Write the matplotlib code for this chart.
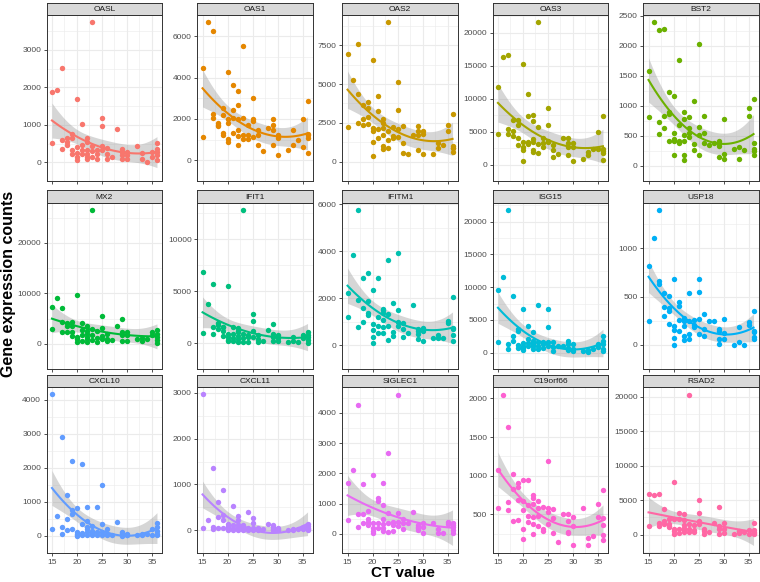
import numpy as np
import matplotlib.pyplot as plt

plt.rcParams['font.family'] = ['Liberation Sans', 'DejaVu Sans']

# CT value of each sample (shared by all genes)
ct = [15, 15, 16, 17, 17, 17, 18, 18, 18, 19, 19, 19, 19, 20, 20, 20, 20, 20,
      21, 21, 21, 21, 22, 22, 22, 22, 22, 22, 23, 23, 23, 23, 24, 24, 24,
      25, 25, 25, 25, 26, 26, 26, 27, 28, 29, 29, 29, 29, 30, 30, 30,
      32, 33, 33, 34, 35, 35, 36, 36, 36, 36, 36]

genes = ['OASL', 'OAS1', 'OAS2', 'OAS3', 'BST2',
         'MX2', 'IFIT1', 'IFITM1', 'ISG15', 'USP18',
         'CXCL10', 'CXCL11', 'SIGLEC1', 'C19orf66', 'RSAD2']

colors = ['#F8766D', '#E58700', '#C99800', '#A3A500', '#6BB100',
          '#00BA38', '#00BF7D', '#00C0AF', '#00BCD8', '#00B0F6',
          '#619CFF', '#B983FF', '#E76BF3', '#FD61D1', '#FF67A4']

oasl = [1870, 520, 1930, 2530, 360, 600, 650, 530, 450, 750, 660, 320, 230,
        1700, 400, 250, 150, 60, 1030, 450, 320, 230, 650, 540, 320, 230, 140, 90,
        3740, 440, 300, 150, 320, 230, 100, 1180, 980, 430, 320, 230, 80, 380,
        130, 880, 280, 100, 350, 200, 280, 100, 200, 430, 250, 100, 0, 280, 150,
        520, 280, 200, 60, 350]
oas1 = [4440, 1150, 6700, 6240, 2260, 2060, 1800, 1720, 1650, 2550, 2200, 1300, 1200,
        4270, 1990, 1800, 1020, 900, 3650, 2420, 2060, 1300, 3340, 2690, 2020, 1450, 1160, 730,
        5500, 2060, 1230, 1020, 1730, 1230, 1050, 2990, 1990, 1880, 1130, 1450, 760, 1200,
        430, 1560, 1980, 1450, 720, 1700, 270, 1070, 1200, 490, 1450, 760, 1000, 2020, 640,
        2880, 1270, 1090, 370, 1200]
oas2 = [6940, 2200, 5280, 7560, 4380, 2500, 3680, 2720, 2370, 3840, 3450, 2850, 2450,
        6570, 2140, 1990, 1250, 390, 4220, 3260, 2080, 1500, 2720, 2520, 2140, 1720, 1020, 790,
        9020, 1950, 1370, 890, 2240, 1660, 1500, 5110, 3350, 2080, 1560, 2290, 580, 1180,
        520, 1700, 2290, 2000, 1710, 730, 2000, 520, 1800, 460, 1180, 890, 1080, 2370, 1950,
        3050, 1020, 850, 640, 890]
oas3 = [11700, 4620, 16270, 16560, 5330, 4670, 6750, 5140, 4250, 6750, 6040, 4060, 3000,
        15190, 3440, 2640, 2170, 470, 10660, 7360, 3350, 3110, 7450, 6650, 3820, 3350, 2170, 1840,
        21600, 5660, 3110, 1790, 3960, 3300, 2640, 8540, 5940, 3580, 3350, 2260, 1080, 3000,
        1600, 3960, 3960, 3250, 2640, 1370, 3250, 470, 2600, 850, 1930, 1370, 2310, 4900, 2310,
        7400, 2400, 1790, 700, 2100]
bst2 = [1580, 815, 2400, 2260, 730, 530, 2280, 830, 625, 1240, 900, 860, 420,
        1160, 550, 450, 410, 180, 1760, 680, 420, 390, 900, 780, 510, 410, 180, 100,
        815, 640, 550, 480, 1090, 360, 270, 2030, 650, 520, 190, 840, 550, 390,
        350, 380, 420, 340, 150, 380, 790, 200, 110, 280, 320, 110, 270, 970, 840,
        1110, 390, 280, 250, 180]
mx2 = [7260, 2870, 9020, 7130, 4390, 2380, 4090, 3480, 2380, 4270, 3480, 2260, 1500,
       9570, 1340, 1200, 920, 430, 4200, 2740, 1650, 600, 3480, 2560, 1950, 1340, 920, 300,
       26500, 2870, 1650, 730, 2560, 1160, 430, 5490, 3170, 1520, 850, 1950, 550, 1000,
       790, 3480, 4820, 2260, 1770, 550, 2380, 1650, 550, 1040, 1160, 550, 1040, 2380, 1650,
       2740, 1950, 1340, 730, 240]
ifit1 = [6830, 960, 3740, 5690, 1560, 900, 1950, 1740, 1350, 1590, 1500, 1140, 700,
         5510, 900, 600, 300, 150, 1500, 900, 450, 150, 1410, 1200, 1050, 660, 360, 120,
         12800, 900, 450, 120, 750, 600, 120, 2840, 2100, 1200, 600, 750, 60, 400,
         150, 1260, 1800, 900, 600, 210, 750, 450, 150, 60, 600, 150, 60, 750, 450,
         1050, 750, 600, 300, 0]
ifitm1 = [2240, 1200, 3860, 5770, 1920, 790, 2850, 1580, 980, 3090, 1870, 1390, 1310,
          2340, 930, 660, 380, 100, 2870, 1200, 820, 530, 1540, 1490, 1360, 1070, 780, 530,
          3620, 1320, 820, 230, 1800, 570, 420, 3920, 1510, 1010, 820, 950, 370, 700,
          530, 1700, 690, 630, 500, 290, 730, 180, 600, 320, 440, 300, 320, 1050, 950,
          2050, 730, 690, 440, 210]
isg15 = [9600, 1700, 11500, 21750, 1350, 600, 8600, 2600, 1850, 3600, 3250, 700, 1200,
         6600, 1450, 950, 700, 350, 4000, 2100, 1450, 950, 3200, 1850, 1500, 1350, 950, 500,
         7250, 1600, 950, 500, 1600, 1350, 750, 6600, 3850, 1600, 950, 1600, 200, 900,
         950, 950, 1850, 1250, 700, 450, 1350, 600, 200, 200, 450, 100, 600, 1350, 850,
         2600, 1750, 1250, 600, 200]
usp18 = [813, 246, 1103, 1399, 657, 626, 539, 393, 299, 508, 377, 352, 212,
         679, 196, 153, 75, 3, 445, 399, 259, 143, 283, 259, 243, 196, 90, 50,
         533, 252, 112, 65, 259, 206, 181, 679, 548, 268, 115, 315, 159, 90,
         243, 243, 165, 143, 59, 9, 268, 122, 65, 3, 190, 25, 3, 237, 206,
         352, 143, 128, 81, 65]
cxcl10 = [4150, 190, 580, 2910, 265, 70, 1200, 490, 180, 2200, 750, 630, 190,
          830, 120, 70, 40, 0, 2120, 350, 90, 20, 860, 430, 260, 190, 120, 20,
          285, 150, 80, 30, 860, 120, 40, 1490, 350, 120, 40, 190, 70, 30,
          40, 400, 120, 40, 80, 10, 70, 20, 40, 40, 70, 20, 70, 190, 40,
          380, 265, 140, 20, 60]
cxcl11 = [2970, 57, 213, 1365, 71, 14, 625, 284, 57, 867, 320, 213, 57,
          142, 85, 57, 28, 0, 526, 107, 36, 0, 299, 213, 107, 57, 28, 0,
          71, 28, 120, 10, 391, 57, 0, 270, 156, 57, 0, 57, 0, 20,
          28, 142, 107, 0, 60, 20, 14, 0, 40, 0, 14, 0, 14, 71, 20,
          128, 57, 30, 0, 90]
siglec1 = [1690, 440, 2100, 4260, 230, 650, 1660, 660, 340, 750, 480, 390, 300,
           1940, 340, 200, 30, 100, 1200, 1090, 370, 200, 1680, 950, 480, 310, 90, 200,
           2690, 700, 370, 70, 400, 90, 300, 4610, 700, 400, 250, 340, 150, 500,
           340, 720, 230, 140, 300, 200, 340, 230, 30, 340, 30, 150, 30, 400, 310,
           340, 230, 140, 30, 300]
c19orf66 = [1080, 590, 2050, 1630, 660, 560, 1020, 830, 420, 910, 860, 690, 430,
            940, 680, 560, 310, 180, 940, 620, 480, 400, 750, 710, 630, 470, 380, 250,
            680, 580, 480, 350, 600, 310, 290, 1190, 580, 530, 380, 570, 450, 260,
            140, 510, 510, 420, 280, 260, 470, 350, 100, 590, 200, 110, 220, 630, 470,
            820, 450, 360, 230, 170]
rsad2 = [5930, 1200, 5690, 5930, 1690, 1200, 3760, 1980, 1590, 2310, 1590, 1110, 1200,
         7570, 2310, 870, 530, 140, 3130, 2310, 870, 290, 3040, 2070, 1350, 720, 390, 1000,
         20290, 1590, 870, 390, 1350, 720, 390, 5060, 3130, 1980, 1590, 870, 140, 500,
         390, 1690, 4000, 1200, 50, 800, 1690, 870, 240, 140, 530, 300, 390, 630, 140,
         1690, 630, 390, 50, 200]

values = [oasl, oas1, oas2, oas3, bst2, mx2, ifit1, ifitm1, isg15, usp18,
          cxcl10, cxcl11, siglec1, c19orf66, rsad2]
ytick_step = [1000, 2000, 2500, 5000, 500, 10000, 5000, 2000, 5000, 500,
              1000, 1000, 1000, 500, 5000]


def quad_smooth(x, y, xs):
    # lm(y ~ poly(x, 2)) with 95% confidence band
    X = np.column_stack([np.ones_like(x), x, x ** 2])
    beta = np.linalg.lstsq(X, y, rcond=None)[0]
    resid = y - X @ beta
    s2 = resid @ resid / (len(y) - 3)
    cov = s2 * np.linalg.inv(X.T @ X)
    X0 = np.column_stack([np.ones_like(xs), xs, xs ** 2])
    fit = X0 @ beta
    se = np.sqrt(np.einsum('ij,jk,ik->i', X0, cov, X0))
    return fit, 2.001 * se


W, H = 760, 582
fig = plt.figure(figsize=(W / 100, H / 100), dpi=100)

col_left = [46.7, 197.3, 342.3, 492.7, 643.3]
row_top = [15, 203, 387]
pw, ph, sh = 115.5, 166, 12.5

x = np.array(ct, dtype=float)
xs = np.linspace(x.min(), x.max(), 80)

for i, gene in enumerate(genes):
    r, c = divmod(i, 5)
    left, top = col_left[c], row_top[r]
    ax = fig.add_axes([left / W, 1 - (top + ph) / H, pw / W, ph / H])
    y = np.array(values[i], dtype=float)
    fit, ci = quad_smooth(x, y, xs)

    ax.fill_between(xs, fit - ci, fit + ci, color='#999999', alpha=0.4, lw=0, zorder=2)
    ax.scatter(x, y, s=15, color=colors[i], lw=0, zorder=3)
    ax.plot(xs, fit, color=colors[i], lw=1.5, zorder=4)

    lo = min(y.min(), (fit - ci).min())
    hi = max(y.max(), (fit + ci).max())
    pad = (hi - lo) * 0.05
    ax.set_ylim(lo - pad, hi + pad)
    ax.set_xlim(13.95, 37.05)

    step = ytick_step[i]
    major = np.arange(np.ceil((lo - pad) / step) * step, hi + pad, step) + 0.0
    ax.set_yticks(major)
    ax.set_yticks(np.arange(major[0] - step / 2, hi + pad, step), minor=True)
    ax.set_yticklabels([str(int(round(v))) for v in major])
    ax.set_xticks([15, 20, 25, 30, 35])
    ax.set_xticks([17.5, 22.5, 27.5, 32.5], minor=True)
    if r < 2:
        ax.set_xticklabels([])

    ax.grid(which='major', color='#EBEBEB', lw=0.8, zorder=0)
    ax.grid(which='minor', color='#EBEBEB', lw=0.4, zorder=0)
    ax.set_axisbelow(True)
    ax.tick_params(which='major', length=2.5, width=0.6, color='#333333',
                   labelsize=6, labelcolor='#4D4D4D', pad=1.5)
    ax.tick_params(which='minor', length=0)
    for sp in ax.spines.values():
        sp.set_color('#333333')
        sp.set_linewidth(0.7)

    # facet strip
    sax = fig.add_axes([left / W, 1 - top / H, pw / W, sh / H])
    sax.set_facecolor('#D9D9D9')
    sax.set_xticks([])
    sax.set_yticks([])
    for sp in sax.spines.values():
        sp.set_color('#333333')
        sp.set_linewidth(0.7)
    sax.text(0.5, 0.45, gene, ha='center', va='center', fontsize=6,
             color='#1A1A1A', transform=sax.transAxes)

fig.text(403 / W, 1 - 580 / H, 'CT value', ha='center', va='bottom',
         fontsize=11, fontweight='bold')
fig.text(9 / W, 1 - 284 / H, 'Gene expression counts', ha='center', va='center',
         rotation=90, fontsize=11.5, fontweight='bold')

fig.savefig('out.png', dpi=100)
